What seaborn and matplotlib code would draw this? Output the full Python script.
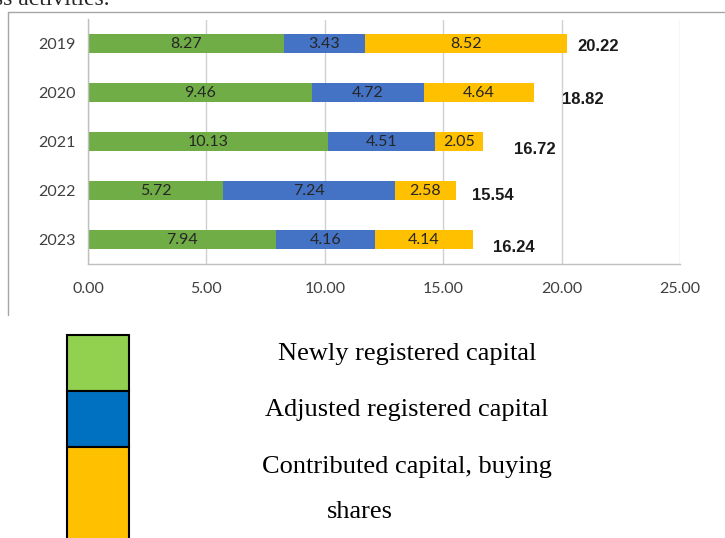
import matplotlib
matplotlib.use("Agg")
import matplotlib.pyplot as plt
import seaborn as sns
import pandas as pd
from matplotlib.patches import Rectangle
from matplotlib.lines import Line2D

# data
years = ['2019', '2020', '2021', '2022', '2023']
newly_registered = [8.27, 9.46, 10.13, 5.72, 7.94]
adjusted_registered = [3.43, 4.72, 4.51, 7.24, 4.16]
contributed_capital = [8.52, 4.64, 2.05, 2.58, 4.14]
totals = [20.22, 18.82, 16.72, 15.54, 16.24]
x_ticks = [0, 5, 10, 15, 20, 25]

# labels of the totals sit a bit off the bar ends in the original
label_dx = [0.43, 1.18, 1.28, 0.66, 0.86]
label_dy = [0.06, 0.14, 0.16, 0.10, 0.16]

green, blue, gold = '#70AD47', '#4472C4', '#FFC000'

df = pd.DataFrame({'year': years, 'newly': newly_registered,
                   'adjusted': adjusted_registered, 'contributed': contributed_capital})
df['cum1'] = df['newly']
df['cum2'] = df['newly'] + df['adjusted']
df['cum3'] = df['cum2'] + df['contributed']

sns.set_style('white')
W, H = 725, 538
fig = plt.figure(figsize=(7.25, 5.38), dpi=100)
ax = fig.add_axes([88 / W, 1 - 264 / H, (680 - 88) / W, (264 - 19.5) / H])

# stacked bars: draw the longest cumulative first
for col, c in [('cum3', gold), ('cum2', blue), ('cum1', green)]:
    sns.barplot(data=df, x=col, y='year', order=years, orient='h', color=c,
                width=0.39, saturation=1, linewidth=0, ax=ax)

# segment labels
seg_font = dict(family='Lato', fontsize=11.5, color='#262626', ha='center', va='center')
for i in range(len(years)):
    starts = [0, df['cum1'][i], df['cum2'][i]]
    vals = [newly_registered[i], adjusted_registered[i], contributed_capital[i]]
    for s, v in zip(starts, vals):
        ax.text(s + v / 2, i, f'{v:.2f}', **seg_font)
    ax.text(df['cum3'][i] + label_dx[i], i + label_dy[i], f'{totals[i]:.2f}',
            family='Liberation Sans', fontweight='bold', fontsize=12,
            color='#1a1a1a', ha='left', va='center')

ax.set_xlim(0, 25)
ax.set_ylim(len(years) - 0.5, -0.5)
ax.set_xticks(x_ticks)
ax.set_xticklabels([f'{t:.2f}' for t in x_ticks], family='Lato', fontsize=11.5, color='#404040')
ax.set_yticks(range(len(years)))
ax.set_yticklabels(years, family='Lato', fontsize=11.5, color='#404040')
ax.set_yticks([i - 0.5 for i in range(len(years) + 1)], minor=True)
ax.tick_params(axis='y', which='major', length=0, pad=9)
ax.tick_params(axis='y', which='minor', length=5, color='#BFBFBF', direction='out')
ax.tick_params(axis='x', length=5, color='#BFBFBF', direction='out', pad=8)
ax.set_xlabel('')
ax.set_ylabel('')
ax.xaxis.grid(True, color='#D0D0D0', lw=1)
ax.yaxis.grid(False)
ax.set_axisbelow(True)
for side in ['top', 'right']:
    ax.spines[side].set_visible(False)
for side in ['left', 'bottom']:
    ax.spines[side].set_color('#BFBFBF')
    ax.spines[side].set_linewidth(1)

# chart frame (left and top edges visible)
fig.add_artist(Line2D([8 / W, 8 / W], [1 - 12 / H, 1 - 315 / H], color='#A6A6A6', lw=1))
fig.add_artist(Line2D([8 / W, 1], [1 - 12 / H, 1 - 12 / H], color='#A6A6A6', lw=1))

# clipped text from the page above
fig.text(110 / W, 1 - 5 / H, 'business activities.', family='Liberation Serif',
         fontsize=17, ha='right', va='baseline')

# hand-made legend below the chart
boxes = [(335, 391, '#92D050'), (391, 447, '#0070C0'), (447, 545, '#FFC000')]
for top, bot, c in boxes:
    fig.add_artist(Rectangle((67 / W, 1 - bot / H), 62 / W, (bot - top) / H,
                             facecolor=c, edgecolor='black', lw=1.5,
                             transform=fig.transFigure))
leg_font = dict(family='Liberation Serif', fontsize=19, color='black', ha='center', va='center')
fig.text(407 / W, 1 - 354 / H, 'Newly registered capital', **leg_font)
fig.text(407 / W, 1 - 410 / H, 'Adjusted registered capital', **leg_font)
fig.text(407 / W, 1 - 467 / H, 'Contributed capital, buying', **leg_font)
fig.text(360 / W, 1 - 512 / H, 'shares', **leg_font)

fig.savefig('out.png', dpi=100)
